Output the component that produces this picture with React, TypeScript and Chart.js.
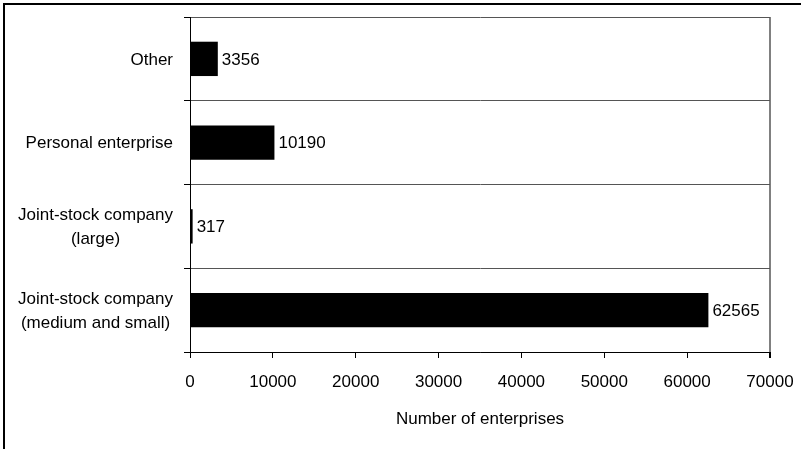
import React, { useEffect, useRef } from "react";
import { Chart, registerables } from "chart.js";

Chart.register(...registerables);

const categories: (string | string[])[] = [
  "Other",
  "Personal enterprise",
  ["Joint-stock company", "(large)"],
  ["Joint-stock company", "(medium and small)"],
];
const enterprises: number[] = [3356, 10190, 317, 62565];
const xTicks: number[] = [0, 10000, 20000, 30000, 40000, 50000, 60000, 70000];
const xTitle = "Number of enterprises";

const FONT_FAMILY = "'Liberation Sans', Arial, sans-serif";
const FONT_SIZE = 17;
const LABEL_LINE_HEIGHT = 24;
const LABEL_GAP = 17;

const frame = {
  id: "frame",
  beforeDraw(chart: any) {
    const ctx = chart.ctx;
    ctx.save();
    ctx.fillStyle = "#fff";
    ctx.fillRect(0, 0, chart.width, chart.height);
    ctx.fillStyle = "#000";
    ctx.fillRect(3, 3, chart.width - 3, 2);
    ctx.fillRect(3, 3, 2, chart.height - 3);
    ctx.restore();
  },
};

// Category labels: each block right-aligned to the axis, lines centred within the block.
const categoryLabels = {
  id: "categoryLabels",
  afterDraw(chart: any) {
    const ctx = chart.ctx;
    const yScale = chart.scales.y;
    const labels = chart.data.labels as (string | string[])[];
    const right = yScale.right - LABEL_GAP;
    ctx.save();
    ctx.font = `${FONT_SIZE}px ${FONT_FAMILY}`;
    ctx.fillStyle = "#000";
    ctx.textAlign = "center";
    ctx.textBaseline = "middle";
    labels.forEach((lab, i) => {
      const lines = Array.isArray(lab) ? lab : [lab];
      const w = Math.max(...lines.map((l) => ctx.measureText(l).width));
      const cx = right - w / 2;
      const cy = yScale.getPixelForTick(i);
      const y0 = cy - ((lines.length - 1) * LABEL_LINE_HEIGHT) / 2;
      lines.forEach((l, k) => ctx.fillText(l, cx, y0 + k * LABEL_LINE_HEIGHT + 1));
    });
    ctx.restore();
  },
};

const valueLabels = {
  id: "valueLabels",
  afterDatasetsDraw(chart: any) {
    const ctx = chart.ctx;
    const meta = chart.getDatasetMeta(0);
    const data = chart.data.datasets[0].data as number[];
    ctx.save();
    ctx.font = `${FONT_SIZE}px ${FONT_FAMILY}`;
    ctx.fillStyle = "#000";
    ctx.textAlign = "left";
    ctx.textBaseline = "middle";
    meta.data.forEach((bar: any, i: number) => {
      ctx.fillText(String(data[i]), bar.x + 4, bar.y + 1);
    });
    ctx.restore();
  },
};

export default function App() {
  const ref = useRef<HTMLCanvasElement | null>(null);
  useEffect(() => {
    document.body.style.margin = "0";
    const chart = new Chart(ref.current as HTMLCanvasElement, {
      type: "bar",
      data: {
        labels: categories as any,
        datasets: [
          {
            data: enterprises,
            backgroundColor: "#000",
            borderColor: "#000",
            borderWidth: 0,
            categoryPercentage: 1,
            barPercentage: 0.41,
          },
        ],
      },
      options: {
        indexAxis: "y",
        animation: false,
        responsive: false,
        maintainAspectRatio: false,
        events: [],
        layout: { padding: { left: 0, right: 31, top: 17, bottom: 0 } },
        plugins: {
          legend: { display: false },
          tooltip: { enabled: false },
          title: { display: false },
        },
        scales: {
          x: {
            type: "linear",
            min: 0,
            max: 70000,
            afterBuildTicks: (scale: any) => {
              scale.ticks = xTicks.map((v) => ({ value: v }));
            },
            afterFit: (scale: any) => {
              scale.height = 97;
              scale.paddingLeft = 0;
              scale.paddingRight = 0;
            },
            border: { display: true, color: "#000", width: 1 },
            grid: {
              drawOnChartArea: true,
              color: (c: any) => (c.tick && c.tick.value === 70000 ? "#808080" : "rgba(0,0,0,0)"),
              tickColor: "#000",
              tickLength: 6,
              lineWidth: (c: any) => (c.tick && c.tick.value === 70000 ? 2 : 1),
            },
            ticks: {
              color: "#000",
              font: { family: FONT_FAMILY, size: FONT_SIZE },
              padding: 14,
              maxRotation: 0,
              autoSkip: false,
              callback: (v: any) => String(v),
            },
            title: {
              display: true,
              text: xTitle,
              color: "#000",
              font: { family: FONT_FAMILY, size: FONT_SIZE },
              padding: { top: 0, bottom: 19 },
            },
          },
          y: {
            type: "category",
            afterFit: (scale: any) => {
              scale.width = 190;
              scale.paddingTop = 0;
              scale.paddingBottom = 0;
            },
            border: { display: true, color: "#000", width: 1 },
            grid: {
              offset: true,
              color: "#555",
              tickColor: "#000",
              tickLength: 6,
            },
            ticks: {
              display: false,
              autoSkip: false,
            },
          },
        },
      },
      plugins: [frame, categoryLabels, valueLabels],
    });
    return () => chart.destroy();
  }, []);
  return (
    <div style={{ position: "absolute", left: 0, top: 0, width: 801, height: 449 }}>
      <canvas ref={ref} width={801} height={449} style={{ width: 801, height: 449, display: "block" }} />
    </div>
  );
}
